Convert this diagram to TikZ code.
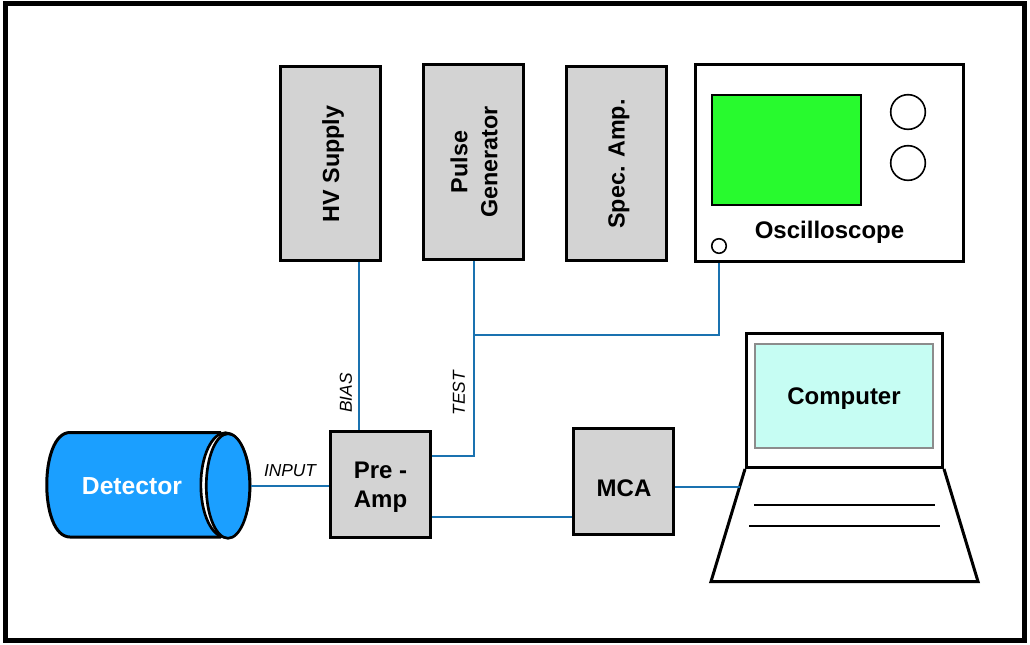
\documentclass[tikz,border=0pt]{standalone}
\usepackage{fontspec}
\setmainfont{Liberation Sans}
\usetikzlibrary{shapes.geometric}
\definecolor{unitgrey}{HTML}{D3D3D3}
\definecolor{wireblue}{HTML}{1A72B0}
\definecolor{detblue}{HTML}{1B9FFF}
\definecolor{scopegreen}{HTML}{28FA2E}
\definecolor{lcdcyan}{HTML}{C6FDF3}
\tikzset{
  unit/.style={draw=black,line width=2.25pt,fill=unitgrey,inner sep=0pt},
  sidetext/.style={rotate=90,align=center,inner sep=0pt,font=\fontsize{17.5}{22.5}\selectfont\bfseries},
  wire/.style={draw=wireblue,line width=1.5pt},
  knob/.style={circle,draw=black,line width=1.2pt,fill=white,inner sep=0pt},
  tag/.style={font=\fontsize{13}{15}\selectfont\itshape,inner sep=0pt},
  heading/.style={align=center,font=\fontsize{18}{22}\selectfont\bfseries,inner sep=0pt},
}
\begin{document}
\begin{tikzpicture}[x=0.75pt,y=-0.75pt]
        \useasboundingbox (0,0) rectangle (1030,644);
        \fill[white] (0,0) rectangle (1030,644);
        \node[draw=black,line width=3.75pt,minimum width=764.25pt,minimum height=477.75pt,inner sep=0pt] (frame) at (515,322) {};

        % free ends and off-centre taps of the wires
        \coordinate (biastap) at (359,335);
        \coordinate (testtap) at (473.5,456);
        \coordinate (mcatap) at (500,517);
        \coordinate (pctap) at (740,487);
        \coordinate (scopetap) at (473.5,335);

        % rack units
        \node[unit,minimum width=75pt,minimum height=145.5pt] (hv) at (330.5,163.5) {};
        \node[sidetext] (hvtext) at (333,164) {HV Supply};
        \node[unit,minimum width=75pt,minimum height=146.25pt] (pulse) at (473.5,162) {};
        \node[sidetext] (pulsetext) at (474,162) {Pulse\\Generator};
        \node[unit,minimum width=75pt,minimum height=145.5pt] (spec) at (616,163.5) {};
        \node[sidetext] (spectext) at (619,164) {Spec. Amp.};

        % oscilloscope
        \node[draw=black,line width=2.25pt,fill=white,minimum width=201pt,minimum height=147.75pt,inner sep=0pt] (scope) at (829.5,163) {};
        \node[draw=black,line width=1.5pt,fill=scopegreen,minimum width=111.75pt,minimum height=82.5pt,inner sep=0pt] (trace) at (786.5,150) {};
        \node[knob,minimum size=26pt] (knoba) at (908,112) {};
        \node[knob,minimum size=26pt] (knobb) at (908,163) {};
        \node[knob,minimum size=10.9pt] (probe) at (719,246) {};
        \node[heading] (scopetext) at (829.5,232) {Oscilloscope};

        % detector
        \draw[draw=black,line width=2.25pt,fill=detblue] (221,432.5) -- (70,432.5) .. controls (39,432.5) and (39,537) .. (70,537) -- (221,537);
        \node[ellipse,draw=black,line width=2pt,fill=white,minimum width=37pt,minimum height=78.4pt,inner sep=0pt] (rim) at (225.5,485) {};
        \node[ellipse,draw=black,line width=2pt,fill=detblue,minimum width=32.6pt,minimum height=78.4pt,inner sep=0pt] (face) at (228,486) {};
        \node[heading,text=white,font=\fontsize{18.5}{22}\selectfont\bfseries] (dettext) at (132,486) {Detector};

        % amplifiers
        \node[unit,minimum width=75pt,minimum height=79.5pt] (preamp) at (380.5,484.5) {};
        \node[heading,font=\fontsize{18}{21.5}\selectfont\bfseries] (preamptext) at (380.5,487) {Pre -\\Amp};
        \node[unit,minimum width=75pt,minimum height=79.5pt] (mca) at (623.5,481.5) {};
        \node[heading] (mcatext) at (624,488) {MCA};

        % laptop
        \node[draw=black,line width=2.25pt,fill=white,minimum width=147pt,minimum height=100.5pt,inner sep=0pt] (lid) at (844.5,400.5) {};
        \node[draw=black!45,line width=1.5pt,fill=lcdcyan,minimum width=133.5pt,minimum height=78pt,inner sep=0pt] (lcd) at (844,396) {};
        \node[heading] (lcdtext) at (844,398.5) {Computer};
        \draw[line width=2.25pt,line join=miter] (lid.south west) -- (711,581.5) -- (978,581.5) -- (lid.south east);
        \draw[line width=1.2pt] (754,505) -- (935,505);
        \draw[line width=1.2pt] (749,526) -- (940,526);

        % wires
        \draw[wire] (biastap |- hv.south) -- (biastap |- preamp.north);
        \draw[wire] (pulse.south) -- (testtap) -- (testtap -| preamp.east);
        \draw[wire] (scopetap) -- (scopetap -| probe.south) -- (probe.south |- scope.south);
        \draw[wire] (face.east) -- (face.east -| preamp.west);
        \draw[wire] (mcatap -| preamp.east) -- (mcatap -| mca.west);
        \draw[wire] (pctap -| mca.east) -- (pctap);

        % labels on wires
        \node[tag,rotate=90] (biastext) at (346,393) {BIAS};
        \node[tag,rotate=90] (testtext) at (459,393) {TEST};
        \node[tag] (inputtext) at (290,471) {INPUT};
\end{tikzpicture}
\end{document}
